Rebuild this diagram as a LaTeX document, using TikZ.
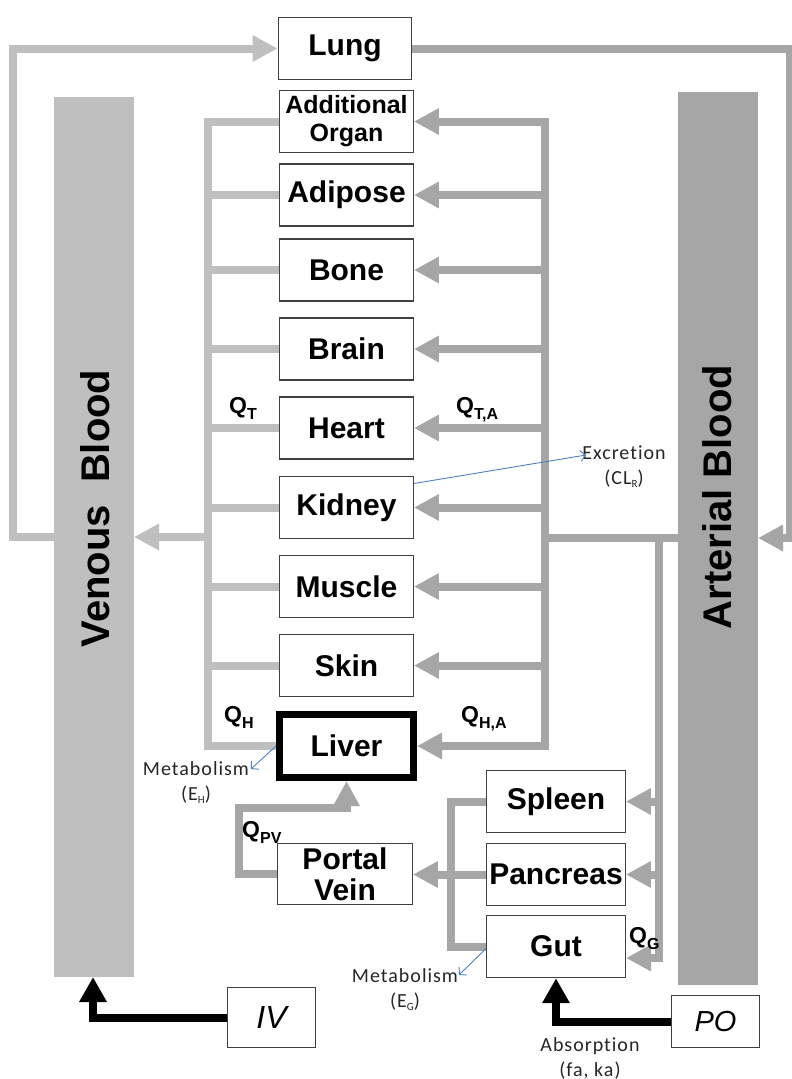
\documentclass[tikz,border=0pt]{standalone}
\usepackage{fontspec}
\setmainfont{Liberation Sans}
\newfontfamily\calib[LetterSpace=5,Ligatures=NoCommon]{Carlito}
\usetikzlibrary{arrows.meta}
\pgfdeclarelayer{bg}
\pgfdeclarelayer{bars}
\pgfdeclarelayer{lines}
\pgfsetlayers{bg,bars,lines,main}
\definecolor{vg}{HTML}{BFBFBF}
\definecolor{ag}{HTML}{A6A6A6}
\definecolor{bl}{HTML}{4F81BD}
\definecolor{bd}{HTML}{404040}
\definecolor{tx}{HTML}{262626}
\newcommand\qsub[1]{\raisebox{-6pt}{\fontsize{16}{16}\selectfont #1}}
\newcommand\ssub[1]{\raisebox{-3pt}{\fontsize{11}{11}\selectfont #1}}
\begin{document}
\begin{tikzpicture}[x=1pt,y=-1pt,
  organ/.style={draw=bd, line width=1.4pt, fill=white, minimum width=133.5pt,
    minimum height=62pt, inner sep=0pt, align=center,
    font=\bfseries\fontsize{30}{31}\selectfont},
  barbox/.style={minimum width=80pt, inner sep=0pt, outer sep=0pt},
  bartext/.style={rotate=90, inner sep=0pt, font=\bfseries\fontsize{40}{40}\selectfont},
  vline/.style={draw=vg, line width=8pt},
  aline/.style={draw=ag, line width=8pt},
  garrow/.style={-{Triangle[length=25pt,width=25pt]}},
  kline/.style={draw=black, line width=8pt, -{Triangle[length=25pt,width=26pt]}},
  bline/.style={draw=bl, line width=0.9pt, -{Straight Barb[length=5pt,width=11pt]}},
  qlab/.style={inner sep=0pt, anchor=base west, font=\bfseries\fontsize{23}{23}\selectfont},
  smalllab/.style={inner sep=0pt, align=center, text=tx, font=\calib\fontsize{20}{25}\selectfont}
]
\begin{pgfonlayer}{bg}
\fill[white] (0,0) rectangle (792,1079);
\end{pgfonlayer}
\useasboundingbox (0,0) rectangle (792,1079);

% blood bars
\begin{pgfonlayer}{bars}
\node[barbox, fill=vg, minimum height=880pt] (venous) at (94,537) {};
\node[barbox, fill=ag, minimum height=893pt] (arterial) at (718,538.5) {};
\end{pgfonlayer}
\node[bartext] (vtext) at (95,508.5) {Venous\ \ Blood};
\node[bartext] (atext) at (717,497) {Arterial Blood};

% organs
\node[organ] (lung) at (345,48.5) {Lung};
\node[organ, font=\bfseries\fontsize{25}{28}\selectfont] (addorg) at (346.5,121.5) {Additional\\Organ};
\node[organ] (adipose) at (346.5,195) {Adipose};
\node[organ] (bone) at (346.5,270) {Bone};
\node[organ] (brain) at (346.5,349) {Brain};
\node[organ] (heart) at (346.5,428) {Heart};
\node[organ] (kidney) at (346.5,507.5) {Kidney};
\node[organ] (muscle) at (346.5,586.5) {Muscle};
\node[organ] (skin) at (346.5,665.5) {Skin};
\node[organ, draw=black, line width=7pt, minimum width=134pt, minimum height=63pt] (liver) at (346.5,746) {Liver};
\node[organ, minimum width=134.5pt, minimum height=61pt] (portal) at (345,874) {Portal\\Vein};
\node[organ, minimum width=138.5pt] (spleen) at (556,801.5) {Spleen};
\node[organ, minimum width=138.5pt] (pancreas) at (556,874.5) {Pancreas};
\node[organ, minimum width=138.5pt] (gut) at (556,946.5) {Gut};
\node[organ, minimum width=88pt, minimum height=60pt, font=\itshape\fontsize{32}{32}\selectfont] (iv) at (271.5,1017.5) {IV};
\node[organ, minimum width=88pt, minimum height=52pt, font=\itshape\fontsize{29}{29}\selectfont] (po) at (715.5,1021.5) {PO};

% helper coordinates
\coordinate (vx) at (208,0);
\coordinate (vj) at (208,537);
\coordinate (lx) at (13,0);
\coordinate (rx) at (790,0);
\coordinate (aj) at (545,538);
\coordinate (gj) at (659,538);
\coordinate (gutin) at (626,958);
\coordinate (sx) at (451,0);
\coordinate (pv) at (239,808);
\coordinate (ivx) at (93,0);
\coordinate (exend) at (586,455);
\coordinate (mhend) at (251,769);
\coordinate (mgend) at (459,975);

\begin{pgfonlayer}{lines}
% venous collection
\draw[vline, line cap=rect] (addorg.west -| vx) -- (liver.west -| vx);
\foreach \n in {addorg,adipose,bone,brain,heart,kidney,muscle,skin,liver}
  \draw[vline] (\n.west) -- (\n.west -| vx);
\draw[vline, garrow] (vj) -- (vj -| venous.east);
\draw[vline, garrow] (vj -| venous.west) -- (vj -| lx) -- (lung.west -| lx) -- (lung.west);
% arterial distribution
\draw[aline, garrow] (lung.east) -- (lung.east -| rx) -- (aj -| rx) -- (aj -| arterial.east);
\draw[aline] (aj -| arterial.west) -- (aj);
\draw[aline, line cap=rect] (addorg.east -| aj) -- (liver.east -| aj);
\foreach \n in {addorg,adipose,bone,brain,heart,kidney,muscle,skin,liver}
  \draw[aline, garrow] (\n.east -| aj) -- (\n.east);
\draw[aline, line cap=rect] (gj) -- (gutin -| gj);
\draw[aline, garrow] (spleen.east -| gj) -- (spleen.east);
\draw[aline, garrow] (pancreas.east -| gj) -- (pancreas.east);
\draw[aline, garrow] (gutin -| gj) -- (gutin);
% splanchnic
\draw[aline] (spleen.west) -- (spleen.west -| sx) -- (gut.west -| sx) -- (gut.west);
\draw[aline, garrow] (pancreas.west) -- (pancreas.west -| portal.east);
\draw[aline, garrow] (portal.west) -- (portal.west -| pv) -- (pv) -- (pv -| liver.south) -- (liver.south);
% flow labels
\node[qlab] (qt) at (229,413) {Q\qsub{T}};
\node[qlab] (qta) at (456,413) {Q\qsub{T,A}};
\node[qlab] (qh) at (224,722) {Q\qsub{H}};
\node[qlab] (qha) at (461,722) {Q\qsub{H,A}};
\node[qlab] (qpv) at (242,837) {Q\qsub{PV}};
\node[qlab] (qg) at (629,943) {Q\qsub{G}};
\end{pgfonlayer}

% dosing
\draw[kline] (iv.west) -- (iv.west -| ivx) -- (venous.south -| ivx);
\draw[kline] (po.west) -- (po.west -| gut.south) -- (gut.south);

% elimination
\node[smalllab] (exc) at (624,467) {Excretion\\(CL\ssub{R})};
\node[smalllab] (meth) at (196,783) {Metabolism\\(E\ssub{H})};
\node[smalllab] (metg) at (405,990) {Metabolism\\(E\ssub{G})};
\node[smalllab] (abs) at (590,1058) {Absorption\\(fa, ka)};
\draw[bline] ([yshift=24pt]kidney.east) -- (exend);
\draw[bline] (liver.west) -- (mhend);
\draw[bline] ([yshift=-2pt]gut.west) -- (mgend);
\end{tikzpicture}
\end{document}
